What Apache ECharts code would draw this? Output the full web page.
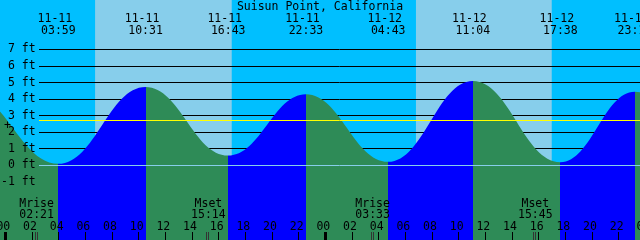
<!DOCTYPE html>
<html><head><meta charset="utf-8">
<script src="https://cdn.jsdelivr.net/npm/echarts@6/dist/echarts.min.js"></script>
<style>html,body{margin:0;padding:0;background:#00BFFF;overflow:hidden}#c{width:640px;height:240px}</style>
</head><body><div id="c"></div>
<script>
// ---- data ----
const stationName = 'Suisun Point, California';
// tide extremes (the first two and last one lie off-canvas and are estimated)
const tideDates   = ['11-10', '11-10', '11-11', '11-11', '11-11', '11-11', '11-12', '11-12', '11-12', '11-12', '11-13', '11-13'];
const tideTimes   = ['15:00', '21:10', '03:59', '10:31', '16:43', '22:33', '04:43', '11:04', '17:38', '23:13', '05:30', '12:00'];
const tideHeights = [0.6, 4.4, 0.1, 4.74, 0.6, 4.3, 0.22, 5.1, 0.2, 4.45, 0.4, 5.0];
// daylight (sunrise / sunset)
const sunriseDates = ['11-11', '11-12'];
const sunriseTimes = ['06:44', '06:48'];
const sunsetDates  = ['11-11', '11-12'];
const sunsetTimes  = ['16:59', '16:59'];
// moon events
const moonNames = ['Mrise', 'Mset', 'Mrise', 'Mset'];
const moonDates = ['11-11', '11-11', '11-12', '11-12'];
const moonTimes = ['02:21', '15:14', '03:33', '15:45'];
// hour ticks (hours after 11-11 00:00)
const hourTicks = [0, 2, 4, 6, 8, 10, 12, 14, 16, 18, 20, 22, 24, 26, 28, 30, 32, 34, 36, 38, 40, 42, 44, 46, 48];
const midnightTicks = [0, 24];
// height ticks (ft)
const heightTicks = [-1, 0, 1, 2, 3, 4, 5, 6, 7];
const meanSeaLevel = 2.7;
const datumLevel = 0;

// ---- helpers ----
function toHours(date, time) {
  const d = Number(date.split('-')[1]);
  const [h, m] = time.split(':').map(Number);
  return (d - 11) * 24 + h + m / 60;
}
const pad2 = n => (n < 10 ? '0' : '') + n;

const C = {
  night: '#00BFFF', day: '#87CEEB', flood: '#0000FF', ebb: '#2E8B57',
  datum: '#87CEEB', msl: '#FFFF00', fg: '#000000'
};
const FONT = '11.5px "DejaVu Sans Mono"';

const tideData = tideDates.map((d, i) => [toHours(d, tideTimes[i]), tideHeights[i]]);
const dayBands = sunriseDates.map((d, i) => [toHours(d, sunriseTimes[i]), toHours(sunsetDates[i], sunsetTimes[i])]);
const moonData = moonDates.map((d, i) => [toHours(d, moonTimes[i]), 0]);
const hourData = hourTicks.map(h => [h, 0]);
const gridLines = heightTicks.map(v => [0, v]);
const levelLines = [[0, datumLevel], [0, meanSeaLevel]];
const levelColors = [C.datum, C.msl];

// visual pieces: rising = flood (blue), falling = ebb (green)
const pieces = [];
for (let i = 0; i < tideData.length - 1; i++) {
  const rising = tideData[i + 1][1] > tideData[i][1];
  pieces.push({ gte: tideData[i][0], lt: tideData[i + 1][0], color: rising ? C.flood : C.ebb });
}
pieces.unshift({ lt: tideData[0][0], color: pieces[0].color === C.flood ? C.ebb : C.flood });
pieces.push({ gte: tideData[tideData.length - 1][0], color: pieces[pieces.length - 1].color === C.flood ? C.ebb : C.flood });

// ---- layout (pixels) ----
const PX_PER_HOUR = 320 / 24;
const X0 = 5.3;                // x of 11-11 00:00
const xMin = -X0 / PX_PER_HOUR;
const xMax = (640 - X0) / PX_PER_HOUR;
const PX_PER_FT = 116 / 7;
const Y0 = 165.5;              // y of 0 ft
const yMax = Y0 / PX_PER_FT;
const yMin = -(240 - Y0) / PX_PER_FT;

// crisp horizontal line across grid 1 at a height value
function hLine(api, v, color) {
  const a = api.coord([0, v]);
  const b = api.coord([1, v]);
  const y = Math.round(a[1] - 0.5) + 0.5;
  return { type: 'line', shape: { x1: a[0], y1: y, x2: b[0], y2: y }, style: { stroke: color, lineWidth: 1 } };
}
function txt(x, y, text) {
  return { type: 'text', x: x, y: y, style: { text: text, font: FONT, fill: C.fg, align: 'center', verticalAlign: 'middle' } };
}

const chart = echarts.init(document.getElementById('c'), null, { renderer: 'canvas' });

const option = {
  animation: false,
  backgroundColor: C.night,
  grid: [
    { left: 0, right: 0, top: 0, bottom: 0, outerBoundsMode: 'none', containLabel: false },
    { left: 39, right: 0, top: Y0 - 7 * PX_PER_FT, bottom: 240 - (Y0 + 1 * PX_PER_FT),
      outerBoundsMode: 'none', containLabel: false }
  ],
  xAxis: [
    { gridIndex: 0, type: 'value', min: xMin, max: xMax, position: 'bottom', z: 3,
      axisLine: { show: false, onZero: false }, splitLine: { show: false }, axisLabel: { show: false },
      axisTick: { show: true, inside: true, length: 8, customValues: hourTicks.filter(h => h <= xMax),
        lineStyle: { color: C.fg, width: 1 } } },
    { gridIndex: 0, type: 'value', min: xMin, max: xMax, position: 'bottom', z: 3,
      axisLine: { show: false, onZero: false }, splitLine: { show: false }, axisLabel: { show: false },
      axisTick: { show: true, inside: true, length: 8, customValues: midnightTicks,
        lineStyle: { color: C.fg, width: 3 } } },
    { gridIndex: 1, type: 'value', min: 0, max: 1, show: false, axisLine: { onZero: false } }
  ],
  yAxis: [
    { gridIndex: 0, type: 'value', min: yMin, max: yMax, show: false },
    // height labels (in front of the tide)
    { gridIndex: 1, type: 'value', min: -1, max: 7, z: 6, position: 'left',
      axisLine: { show: false }, axisTick: { show: false }, splitLine: { show: false },
      axisLabel: { show: true, customValues: heightTicks, margin: 3.3, formatter: v => v + ' ft',
        color: C.fg, fontFamily: 'DejaVu Sans Mono', fontSize: 11.5 } }
  ],
  visualMap: [{
    type: 'piecewise', show: false, dimension: 0, seriesIndex: 2, pieces: pieces
  }],
  graphic: [
    { type: 'text', x: 320, y: 6.8, z: 10,
      style: { text: stationName, font: FONT, fill: C.fg, align: 'center', verticalAlign: 'middle' } },
    { type: 'text', x: 7.5, y: 125.6, z: 10,
      style: { text: '+', font: FONT, fill: C.fg, align: 'center', verticalAlign: 'middle' } }
  ],
  series: [
    { // daylight bands
      type: 'custom', xAxisIndex: 0, yAxisIndex: 0, z: 0, silent: true,
      data: dayBands,
      renderItem: (params, api) => {
        const p0 = api.coord([api.value(0), yMax]);
        const p1 = api.coord([api.value(1), yMin]);
        return { type: 'rect', shape: { x: p0[0], y: p0[1], width: p1[0] - p0[0], height: p1[1] - p0[1] },
          style: { fill: C.day } };
      }
    },
    { // black height grid lines (behind the tide)
      type: 'custom', xAxisIndex: 2, yAxisIndex: 1, z: 1, silent: true,
      data: gridLines,
      renderItem: (params, api) => hLine(api, api.value(1), C.fg)
    },
    { // tide curve
      type: 'line', xAxisIndex: 0, yAxisIndex: 0, z: 2, data: tideData,
      smooth: 0.42, smoothMonotone: 'x', symbol: 'none', silent: true,
      lineStyle: { width: 0 },
      areaStyle: { origin: 'start', opacity: 1 }
    },
    { // datum and mean sea level lines (in front of the tide)
      type: 'custom', xAxisIndex: 2, yAxisIndex: 1, z: 4, silent: true,
      data: levelLines,
      renderItem: (params, api) => hLine(api, api.value(1), levelColors[params.dataIndex])
    },
    { // tide event labels
      type: 'custom', xAxisIndex: 0, yAxisIndex: 0, z: 5, silent: true,
      data: tideData,
      renderItem: (params, api) => {
        const x = api.coord([api.value(0), 0])[0];
        const i = params.dataIndex;
        return { type: 'group', children: [txt(x - 3.5, 18.8, tideDates[i]), txt(x, 30.8, tideTimes[i])] };
      }
    },
    { // hour labels
      type: 'custom', xAxisIndex: 0, yAxisIndex: 0, z: 5, silent: true,
      data: hourData,
      renderItem: (params, api) => {
        const x = api.coord([api.value(0), 0])[0];
        return txt(x - 2, 227.3, pad2(hourTicks[params.dataIndex] % 24));
      }
    },
    { // moon events
      type: 'custom', xAxisIndex: 0, yAxisIndex: 0, z: 5, silent: true,
      data: moonData,
      renderItem: (params, api) => {
        const x = api.coord([api.value(0), 0])[0];
        const i = params.dataIndex;
        const xr = Math.round(x);
        return { type: 'group', children: [
          txt(x, 203.8, moonNames[i]),
          txt(x, 215, moonTimes[i]),
          { type: 'line', shape: { x1: xr - 1.5, y1: 232, x2: xr - 1.5, y2: 240 }, style: { stroke: '#333', lineWidth: 1 } },
          { type: 'line', shape: { x1: xr + 0.5, y1: 232, x2: xr + 0.5, y2: 240 }, style: { stroke: '#333', lineWidth: 1 } }
        ] };
      }
    }
  ]
};
chart.setOption(option);
</script>
</body></html>
